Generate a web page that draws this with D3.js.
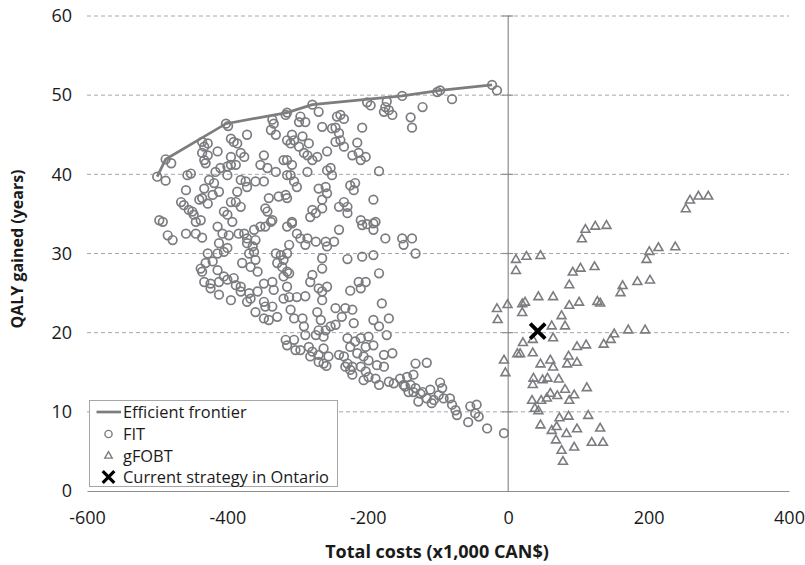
<!DOCTYPE html>
<html><head><meta charset="utf-8">
<script src="https://cdn.jsdelivr.net/npm/d3@7"></script>
<style>html,body{margin:0;padding:0;background:#fff;}svg{display:block;font-family:"Open Sans",sans-serif;}</style>
</head><body><svg id="chart" width="805" height="565"></svg>
<script>
const xTicks = [-600,-400,-200,0,200,400];
const yTicks = [0,10,20,30,40,50,60];
const frontier = [[-500,39.7],[-488,41.9],[-402,46.4],[-315,47.8],[-279,48.8],[-151,49.9],[-97,50.6],[-23,51.3]];
const fitPoints = [
[-500,39.7],[-488,39.2],[-488,41.9],[-480,41.4],[-402,46.4],[-399,46.1],[-315,47.8],[-317,47.5],[-279,48.8],[-151,49.9],[-97,50.6],[-101,50.4],[-23,51.3],[-16,50.6],[-80,49.5],[-122,48.5],
[-436,44.1],[-428,43.9],[-433,43.5],[-436,42.7],[-428,42.4],[-433,41.8],[-431,41.4],[-414,42.9],[-395,44.5],[-391,44.1],[-386,43.9],[-372,45.0],[-395,42.2],[-381,42.7],[-376,42.2],[-336,46.9],[-334,46.4],[-338,45.6],[-331,45.0],[-315,44.3],[-348,42.4],[-353,41.2],[-343,40.8],[-331,40.3],[-320,41.8],[-417,40.3],[-410,40.8],[-400,41.0],[-395,41.2],[-388,41.2],[-400,39.9],[-457,39.9],[-452,40.1],[-459,38.0],[-433,38.2],[-426,39.3],[-419,38.9],[-412,37.8],[-421,37.4],[-381,39.3],[-374,39.1],[-372,38.4],[-360,39.1],[-348,39.1],[-386,37.8],[-395,36.5],[-388,36.5],[-381,35.9],[-436,37.0],[-440,36.8],[-428,36.3],[-466,36.5],[-462,36.1],[-455,35.5],[-450,35.3],[-448,34.9],[-438,34.2],[-497,34.2],[-492,34.0],[-405,35.3],[-400,34.9],[-346,35.7],[-343,35.3],[-336,34.2],[-341,37.0],[-327,37.2],[-315,37.0],[-315,39.9],
[-173,49.2],[-175,48.5],[-170,48.1],[-177,47.9],[-165,47.5],[-201,49.1],[-196,48.7],[-139,47.2],[-137,45.9],[-270,47.9],[-296,47.3],[-298,46.6],[-289,46.6],[-244,47.3],[-239,47.5],[-234,47.0],[-265,46.0],[-251,45.8],[-246,45.9],[-241,45.2],[-208,45.9],[-308,45.0],[-305,44.3],[-293,44.8],[-310,43.9],[-298,43.5],[-284,43.9],[-291,42.7],[-286,42.4],[-279,41.8],[-272,42.2],[-258,42.9],[-246,44.1],[-239,44.3],[-234,43.5],[-215,44.0],[-222,42.4],[-213,42.7],[-203,42.2],[-210,41.8],[-315,41.8],[-308,41.2],[-310,39.9],[-305,39.1],[-301,38.4],[-286,40.3],[-258,40.5],[-253,40.8],[-251,39.9],[-184,40.4],[-270,38.2],[-260,38.4],[-258,37.6],[-265,36.8],[-225,38.6],[-218,38.9],[-220,38.0],[-192,36.8],[-317,37.4],[-279,35.5],[-274,35.1],[-282,34.6],[-265,35.7],[-241,35.9],[-234,36.5],[-229,35.9],[-229,35.1],[-308,34.0],[-210,34.2],[-189,34.0],
[-445,34.0],[-485,32.3],[-478,31.7],[-459,32.5],[-445,32.5],[-436,32.0],[-414,33.4],[-407,32.5],[-398,32.3],[-393,34.0],[-384,32.5],[-376,32.5],[-372,31.9],[-362,33.0],[-360,31.7],[-353,33.4],[-346,33.4],[-338,34.0],[-315,33.4],[-312,31.1],[-412,31.3],[-414,30.0],[-405,30.2],[-400,30.7],[-428,30.0],[-372,31.3],[-364,30.9],[-362,30.2],[-369,30.0],[-360,29.2],[-379,28.8],[-367,28.3],[-357,27.7],[-438,28.1],[-436,27.7],[-431,28.8],[-421,29.0],[-414,27.9],[-433,26.4],[-424,26.2],[-424,25.6],[-412,26.4],[-405,27.1],[-400,26.7],[-391,26.9],[-388,26.0],[-381,25.8],[-381,25.2],[-369,25.0],[-367,24.3],[-372,23.9],[-412,24.8],[-395,24.1],[-357,25.2],[-348,26.2],[-336,26.4],[-334,25.4],[-348,23.9],[-346,23.3],[-336,23.3],[-360,22.6],[-348,21.8],[-341,21.6],[-329,22.0],[-331,30.0],[-324,29.8],[-320,29.2],[-329,28.8],[-322,28.3],[-315,27.7],[-320,27.1],[-315,25.8],[-320,24.3],[-317,19.1],[-315,18.4],
[-308,33.8],[-301,32.5],[-296,31.9],[-286,31.9],[-289,31.1],[-274,31.5],[-260,31.5],[-258,30.9],[-248,31.5],[-241,33.0],[-208,33.6],[-201,33.7],[-192,33.8],[-192,33.0],[-175,31.9],[-151,31.9],[-137,31.9],[-149,31.1],[-132,30.0],[-315,30.0],[-312,27.5],[-312,24.5],[-301,24.5],[-289,24.6],[-265,29.4],[-265,28.1],[-279,27.3],[-282,26.4],[-270,25.6],[-258,25.8],[-265,25.2],[-265,24.1],[-229,29.3],[-208,29.6],[-192,29.8],[-184,27.5],[-213,26.4],[-203,26.4],[-210,25.6],[-225,25.3],[-180,23.7],[-192,21.6],[-170,21.8],[-184,20.8],[-173,19.7],[-220,21.2],[-310,22.9],[-305,21.8],[-293,21.8],[-291,20.8],[-289,19.7],[-272,22.6],[-267,21.6],[-260,20.3],[-253,20.8],[-246,23.1],[-246,21.0],[-232,23.1],[-222,22.9],[-237,22.0],[-270,20.3],[-263,19.5],[-274,19.7],[-305,19.1],[-303,17.8],[-296,17.8],[-284,18.2],[-279,17.6],[-282,17.0],[-270,17.2],[-263,18.0],[-263,16.1],[-256,17.0],[-241,17.2],[-234,17.0],[-229,19.3],[-225,18.2],[-218,18.9],[-210,19.3],[-199,19.5],[-203,18.2],[-192,18.4],[-215,17.4],[-206,17.0],[-199,16.5],[-229,16.1],[-222,15.7],[-187,15.9],[-177,17.2],[-165,17.4],[-132,16.1],[-116,16.2],
[-270,16.3],[-259,15.8],[-232,15.7],[-225,15.3],[-222,14.7],[-210,15.7],[-203,15.1],[-199,14.4],[-206,14.0],[-189,14.2],[-184,13.4],[-177,15.7],[-170,13.8],[-163,13.6],[-154,14.2],[-149,13.4],[-139,13.4],[-135,12.5],[-125,12.3],[-128,11.3],[-116,11.7],[-111,12.8],[-109,11.1],
[-135,14.7],[-144,14.4],[-147,13.2],[-142,12.5],[-132,13.0],[-122,12.5],[-106,11.5],[-97,13.7],[-94,13.0],[-99,12.1],[-92,11.7],[-83,11.7],[-80,10.9],[-75,10.2],[-73,9.6],[-54,10.7],[-45,10.9],[-47,9.8],[-42,9.4],[-57,8.7],[-30,7.9],[-6,7.3]
];
const gfobtPoints = [
[105,31.8],[110,33.0],[124,33.4],[140,33.5],[11,29.2],[11,27.8],[26,29.6],[46,29.7],[92,27.6],[103,28.1],[123,28.3],[87,26.0],[-16,23.0],[-1,23.5],[20,23.6],[24,23.8],[20,22.5],[43,24.5],[64,24.5],[87,23.4],[101,23.8],[127,23.9],[76,22.1],[-15,21.6],
[253,35.6],[259,36.7],[271,37.2],[285,37.2],[197,29.2],[201,30.2],[214,30.7],[238,30.8],[160,25.0],[163,25.9],[184,26.4],[202,26.6],[131,23.7],
[62,20.8],[81,20.8],[64,19.3],[35,19.1],[21,18.7],[13,17.3],[17,17.3],[35,17.4],[-6,16.5],[-4,14.9],[46,16.0],[60,16.5],[64,15.6],[86,17.0],[84,16.0],[98,18.2],[111,18.4],[98,16.2],[36,14.2],[35,13.4],[49,14.0],[56,14.2],[72,14.1],[81,12.8],[60,12.3],[70,12.0],[94,12.1],[87,11.4],[112,13.0],[34,11.4],[47,11.4],[55,11.7],[38,10.4],[43,10.1],[73,9.2],[86,9.4],[114,9.5],[46,8.3],[69,8.1],[62,7.6],[98,7.8],[131,7.9],[83,7.2],[68,6.4],[94,5.5],[119,6.1],[135,6.1],[76,5.1],[78,3.7],
[171,20.3],[195,20.3],[151,19.8],[146,19.1],[136,18.5]
];
const currentStrategy = [[42,20.2]];
const legendLabels = ["Efficient frontier","FIT","gFOBT","Current strategy in Ontario"];

const svg = d3.select("#chart");
const x = d3.scaleLinear().domain([-600,400]).range([87,789]);
const y = d3.scaleLinear().domain([0,60]).range([491,16]);
const markColor = "#7b7c80";
const axisColor = "#8c8c8c";
const fmt = d => String(d);

// gridlines
svg.append("g").selectAll("line").data(yTicks.filter(d=>d>0)).join("line")
  .attr("x1",x(-600)).attr("x2",x(400)).attr("y1",d=>y(d)).attr("y2",d=>y(d))
  .attr("stroke","#a8a8a8").attr("stroke-width",1).attr("stroke-dasharray","4,3");

// horizontal axis (at y=0) and vertical axis (at x=0)
const xAxis = d3.axisBottom(x).tickValues(xTicks).tickSize(0).tickPadding(28).tickFormat(fmt);
const gx = svg.append("g").attr("transform",`translate(0,${y(0)})`).call(xAxis);
gx.select(".domain").attr("stroke",axisColor).attr("stroke-width",1.2);
gx.selectAll("text").attr("font-size",18).attr("fill","#1a1a1a").attr("font-family","Open Sans").attr("dy","0.3em");

const yAxis = d3.axisLeft(y).tickValues(yTicks).tickSize(5).tickPadding(10).tickFormat(fmt);
const gy = svg.append("g").attr("transform",`translate(${x(-600)},0)`).call(yAxis);
gy.select(".domain").remove();
gy.selectAll(".tick line").remove();
gy.selectAll("text").attr("font-size",18).attr("fill","#1a1a1a").attr("font-family","Open Sans");

svg.append("line").attr("x1",x(0)).attr("x2",x(0)).attr("y1",y(0)).attr("y2",y(60))
  .attr("stroke",axisColor).attr("stroke-width",1.2);
svg.append("g").selectAll("line").data(yTicks.filter(d=>d>0)).join("line")
  .attr("x1",x(0)-6).attr("x2",x(0)+5).attr("y1",d=>y(d)).attr("y2",d=>y(d))
  .attr("stroke",axisColor).attr("stroke-width",1.2);

// axis titles
svg.append("text").attr("x",437).attr("y",558).attr("text-anchor","middle")
  .attr("font-size",18).attr("font-weight","bold").attr("fill","#1a1a1a").text("Total costs (x1,000 CAN$)");
svg.append("text").attr("transform",`translate(17,249) rotate(-90)`).attr("text-anchor","middle")
  .attr("dy","0.35em")
  .attr("font-size",16).attr("font-weight","bold").attr("fill","#1a1a1a").text("QALY gained (years)");

// FIT circles
svg.append("g").selectAll("circle").data(fitPoints).join("circle")
  .attr("cx",d=>x(d[0])).attr("cy",d=>y(d[1])).attr("r",4.3)
  .attr("fill","none").attr("stroke",markColor).attr("stroke-width",1.7);

// gFOBT triangles
const tri = d3.symbol().type(d3.symbolTriangle).size(34);
svg.append("g").selectAll("path").data(gfobtPoints).join("path")
  .attr("d",tri).attr("transform",d=>`translate(${x(d[0])},${y(d[1])})`)
  .attr("fill","none").attr("stroke",markColor).attr("stroke-width",1.6);

// frontier line
svg.append("path").datum(frontier)
  .attr("d",d3.line().x(d=>x(d[0])).y(d=>y(d[1])))
  .attr("fill","none").attr("stroke","#7d7d7d").attr("stroke-width",2.7);

// current strategy X
const cross = d3.symbol().type(d3.symbolX).size(150);
svg.append("g").selectAll("path").data(currentStrategy).join("path")
  .attr("d",cross).attr("transform",d=>`translate(${x(d[0])},${y(d[1])})`)
  .attr("fill","none").attr("stroke","#000").attr("stroke-width",3.8);

// legend
const lg = svg.append("g");
lg.append("rect").attr("x",89.5).attr("y",400.5).attr("width",248).attr("height",86)
  .attr("fill","#fff").attr("stroke","#a6a6a6").attr("stroke-width",1);
const rows = [412,434,456,477];
lg.append("line").attr("x1",96.5).attr("x2",121).attr("y1",rows[0]).attr("y2",rows[0])
  .attr("stroke","#7d7d7d").attr("stroke-width",2.7);
lg.append("circle").attr("cx",108.5).attr("cy",rows[1]).attr("r",3.6)
  .attr("fill","none").attr("stroke",markColor).attr("stroke-width",1.4);
lg.append("path").attr("d",d3.symbol().type(d3.symbolTriangle).size(24)).attr("transform",`translate(108.5,${rows[2]})`)
  .attr("fill","none").attr("stroke",markColor).attr("stroke-width",1.4);
lg.append("path").attr("d",d3.symbol().type(d3.symbolX).size(90)).attr("transform",`translate(108.5,${rows[3]})`)
  .attr("fill","none").attr("stroke","#000").attr("stroke-width",3.2);
lg.selectAll("text.lab").data(legendLabels).join("text").attr("class","lab")
  .attr("x",123).attr("y",(d,i)=>rows[i]).attr("dy","0.36em")
  .attr("font-size",16.4).attr("fill","#1a1a1a").text(d=>d);
</script></body></html>
